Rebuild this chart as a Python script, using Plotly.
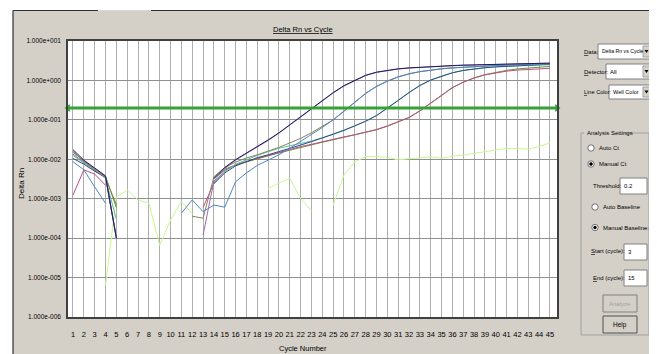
import plotly.graph_objects as go

# ---------------- data ----------------
cycles = list(range(1, 46))
N = None
purple = [0.016, 0.0088, 0.0058, 0.0036, 1.1e-4, N, N, N, N, N, N, N, 1.2e-4, 0.0028, 0.0058,
          0.0095, 0.014, 0.020, 0.030, 0.046, 0.074, 0.118, 0.185, 0.30, 0.48, 0.72, 1.0, 1.33, 1.6, 1.8,
          1.95, 2.06, 2.15, 2.23, 2.30, 2.36, 2.42, 2.47, 2.52, 2.56, 2.60, 2.64, 2.67, 2.70, 2.72]
navy = [0.0175, 0.0095, 0.006, 0.0038, 1.0e-4, N, N, N, N, N, N, N, N, 0.0032, 0.0062,
        0.0098, 0.0143, 0.0205, 0.031, 0.047, 0.075, 0.12, 0.19, 0.305, 0.49, 0.74, 1.02, 1.35, 1.62, 1.82,
        1.97, 2.08, 2.17, 2.25, 2.32, 2.38, 2.44, 2.49, 2.54, 2.58, 2.62, 2.66, 2.69, 2.72, 2.75]
steelblue = [0.0087, 0.0054, 0.002, 7.7e-4, N, N, N, N, N, N, 4.3e-4, 9.3e-4, 4.7e-4, 6.9e-4, 6.1e-4,
             0.0027, 0.0045, 0.007, 0.0095, 0.013, 0.019, 0.028, 0.042, 0.064, 0.10, 0.165, 0.28, 0.47, 0.70, 0.95,
             1.22, 1.46, 1.66, 1.83, 1.96, 2.07, 2.16, 2.24, 2.31, 2.37, 2.43, 2.48, 2.53, 2.57, 2.62]
olive = [0.0135, 0.0085, 0.0055, 0.0034, 7e-4, N, N, N, N, N, N, 3.6e-4, 3.2e-4, 0.0036, 0.0062,
         0.0085, 0.0108, 0.013, 0.016, 0.020, 0.026, 0.034, 0.047, 0.068, 0.10, 0.165, 0.28, 0.47, 0.71, 0.97,
         1.24, 1.48, 1.68, 1.85, 1.98, 2.09, 2.18, 2.26, 2.33, 2.39, 2.45, 2.50, 2.55, 2.59, 2.63]
teal = [0.0125, 0.008, 0.0052, 0.0033, 3e-4, N, N, N, N, N, N, N, N, 0.0026, 0.0048,
        0.0075, 0.0098, 0.0125, 0.0155, 0.019, 0.022, 0.025, 0.029, 0.035, 0.044, 0.055, 0.07, 0.093, 0.13, 0.20,
        0.32, 0.50, 0.75, 1.03, 1.30, 1.57, 1.80, 1.98, 2.10, 2.20, 2.28, 2.35, 2.41, 2.46, 2.50]
darkblue = [0.0105, 0.0075, 0.005, 0.0035, 1.0e-4, N, N, N, N, N, N, N, N, 0.0024, 0.0045,
            0.0068, 0.0088, 0.011, 0.013, 0.0155, 0.019, 0.023, 0.028, 0.034, 0.043, 0.054, 0.069, 0.092, 0.128, 0.195,
            0.31, 0.49, 0.74, 1.02, 1.29, 1.56, 1.79, 1.97, 2.10, 2.21, 2.30, 2.38, 2.45, 2.50, 2.55]
pink = [0.00123, 0.0054, 0.0042, 0.0022, N, N, N, N, N, N, N, N, 6e-4, 0.0025, 0.0052,
        0.0072, 0.0088, 0.0105, 0.0125, 0.015, 0.018, 0.021, 0.024, 0.028, 0.033, 0.037, 0.042, 0.048, 0.057, 0.07,
        0.088, 0.115, 0.17, 0.27, 0.43, 0.66, 0.90, 1.15, 1.38, 1.57, 1.72, 1.83, 1.92, 1.98, 2.03]
green = [0.015, 0.009, 0.0057, 0.0037, 6e-4, N, N, N, N, N, N, N, N, 0.0034, 0.0056,
         0.0072, 0.0087, 0.0104, 0.0122, 0.0145, 0.0172, 0.020, 0.0232, 0.027, 0.031, 0.036, 0.041, 0.047, 0.056, 0.069,
         0.087, 0.114, 0.168, 0.265, 0.42, 0.65, 0.90, 1.16, 1.40, 1.62, 1.80, 1.96, 2.08, 2.18, 2.27]
ntc = [N, N, N, 6.4e-6, 1.1e-3, 1.65e-3, 9.3e-4, 7.7e-4, 6.6e-5, 2.9e-4, 8.4e-4, 4.2e-4, N, N, N,
       N, N, N, 1.8e-3, 2.5e-3, 3.3e-3, 1.0e-3, 5.0e-4, N, 6.9e-4, 4.0e-3, 8.6e-3, 0.0116, 0.0118, 0.0112,
       0.0097, 0.0104, 0.0112, 0.0116, 0.0106, 0.012, 0.0128, 0.014, 0.0155, 0.0172, 0.0188, 0.0188, 0.018, 0.021, 0.026]

series = [
    ("NTC", ntc, "#c8f890"),
    ("Well 8", green, "#62982c"),
    ("Well 7", pink, "#c04c86"),
    ("Well 5", teal, "#5cbf98"),
    ("Well 6", darkblue, "#2d4a8a"),
    ("Well 4", olive, "#84845a"),
    ("Well 3", steelblue, "#4f86c6"),
    ("Well 1", purple, "#9a68b0"),
    ("Well 2", navy, "#1c1c5c"),
]

threshold = 0.2
x_range = [0.54, 45.65]
ytick_vals = [1e1, 1e0, 1e-1, 1e-2, 1e-3, 1e-4, 1e-5, 1e-6]
ytick_text = ["1.000e+001", "1.000e+000", "1.000e-001", "1.000e-002",
              "1.000e-003", "1.000e-004", "1.000e-005", "1.000e-006"]

FONT = "Liberation Sans, Arial, sans-serif"
BG = "#d4d0c8"

fig = go.Figure()
for name, vals, col in series:
    fig.add_trace(go.Scatter(x=cycles, y=vals, mode="lines", name=name,
                             line=dict(color=col, width=1), connectgaps=False))

# threshold line with end arrows
fig.add_trace(go.Scatter(x=x_range, y=[threshold, threshold], mode="lines+markers",
                         line=dict(color="#37a137", width=3),
                         marker=dict(symbol=["triangle-left", "triangle-right"], size=7,
                                     color="#37a137"),
                         cliponaxis=False, name="Threshold"))

# ---------------- layout ----------------
# the page body has an 8px margin, so the figure is 8px smaller than the window
OFF = 8
FIG_W, FIG_H = 657 - OFF, 354 - OFF
L, R, T, B = 68 - OFF, 100, 41 - OFF, 37
W, H = FIG_W - L - R, FIG_H - T - B


def px(x):
    return (x - OFF - L) / W


def py(y):
    return (FIG_H - B - (y - OFF)) / H


shapes = []
annots = []


def rect(x0, y0, x1, y1, fill, line=None, lw=1, layer="below"):
    shapes.append(dict(type="rect", xref="paper", yref="paper", x0=px(x0), x1=px(x1),
                       y0=py(y1), y1=py(y0), fillcolor=fill,
                       line=dict(color=line if line else fill, width=lw if line else 0),
                       layer=layer))


def hline(x0, x1, y, col, lw=1):
    shapes.append(dict(type="line", xref="paper", yref="paper", x0=px(x0), x1=px(x1),
                       y0=py(y), y1=py(y), line=dict(color=col, width=lw)))


def vline(x, y0, y1, col, lw=1):
    shapes.append(dict(type="line", xref="paper", yref="paper", x0=px(x), x1=px(x),
                       y0=py(y0), y1=py(y1), line=dict(color=col, width=lw)))


def text(x, y, s, size=6, color="#000000", xanchor="left", angle=0, yanchor="middle", **fkw):
    annots.append(dict(x=px(x), y=py(y), xref="paper", yref="paper", text=s, showarrow=False,
                       xanchor=xanchor, yanchor=yanchor, textangle=angle,
                       font=dict(family=FONT, size=size, color=color, **fkw)))


def circle(cx, cy, r, fill, line):
    shapes.append(dict(type="circle", xref="paper", yref="paper", x0=px(cx - r), x1=px(cx + r),
                       y0=py(cy + r), y1=py(cy - r), fillcolor=fill, line=dict(color=line, width=1)))


# window frame (page coordinates of the 657x354 window)
rect(0, 0, 657, 10.5, "#ffffff")
rect(0, 0, 13, 354, "#ffffff")
rect(655, 0, 657, 354, "#eeeeee")
hline(13, 98, 10.5, "#303030", 1.2)
hline(98, 151, 10.5, "#d8d8d8", 1.2)
hline(151, 655, 10.5, "#303030", 1.2)
vline(13, 10.5, 354, "#303030", 1.2)

# chart titles
text(303, 29, "Delta Rn vs Cycle", size=7.5, xanchor="center", lineposition="under")
text(21, 184, "Delta Rn", size=8, xanchor="center", angle=-90)
text(303, 348.5, "Cycle Number", size=7.5, xanchor="center")


# dropdowns
def dropdown(x0, x1, y0, y1, label, size=6):
    rect(x0, y0, x1, y1, "#ffffff", "#808080", 1)
    rect(x1 - 9, y0 + 2, x1 - 2, y1 - 2, BG, "#a0a0a0", 1)
    shapes.append(dict(type="path", xref="paper", yref="paper",
                       path="M {} {} L {} {} L {} {} Z".format(px(x1 - 7.5), py((y0 + y1) / 2 - 1.5),
                                                              px(x1 - 3.5), py((y0 + y1) / 2 - 1.5),
                                                              px(x1 - 5.5), py((y0 + y1) / 2 + 1.5)),
                       fillcolor="#000000", line=dict(color="#000000", width=0)))
    text(x0 + 1.5, (y0 + y1) / 2, label, size=size)


text(582, 52, "<u>D</u>ata:", size=6)
dropdown(598, 652, 44, 59, "Delta Rn vs Cycle", size=5.2)
text(582, 71.5, "<u>D</u>etector:", size=6)
dropdown(606, 652, 64, 79, "All")
text(581.5, 92, "<u>L</u>ine Color:", size=5.6)
dropdown(609, 652, 85, 99, "Well Color", size=5.6)

# analysis settings frame
rect(581, 133, 649, 335, BG, "#a0a0a0", 1)
rect(584, 128, 624, 137, BG)
text(584.5, 132.5, "Analysis Settings", size=6)

circle(591, 148, 3.2, "#ffffff", "#707070")
text(597, 148, "Auto Ct", size=6)
circle(591, 164, 3.2, "#ffffff", "#707070")
circle(591, 164, 1.3, "#000000", "#000000")
text(597, 164, "Manual Ct", size=6)

text(591, 186, "Threshold:", size=6)
rect(620, 178, 647, 194, "#ffffff", "#808080", 1)
text(621.5, 186, "0.2", size=6)

circle(595, 207, 3.2, "#ffffff", "#707070")
text(600.5, 207, "Auto Baseline", size=6)
circle(595, 227.5, 3.2, "#ffffff", "#707070")
circle(595, 227.5, 1.3, "#000000", "#000000")
text(600.5, 227.5, "Manual Baseline:", size=6)

text(588.5, 251.5, "<u>S</u>tart (cycle):", size=6)
rect(624, 244, 647, 260, "#ffffff", "#808080", 1)
text(625.5, 252, "3", size=6)

text(590.5, 277.5, "<u>E</u>nd (cycle):", size=6)
rect(624, 270, 647, 286, "#ffffff", "#808080", 1)
text(625.5, 278, "15", size=6)

rect(603, 295, 637, 312, BG, "#808080", 1)
text(620, 303.5, "Analyze", size=6, color="#a0a0a0", xanchor="center")
rect(603, 316, 637, 333, BG, "#505050", 1)
text(620, 324.5, "Help", size=6.5, xanchor="center")

fig.update_layout(
    width=FIG_W, height=FIG_H,
    margin=dict(l=L, r=R, t=T, b=B, pad=0, autoexpand=False),
    paper_bgcolor=BG, plot_bgcolor="#ffffff",
    showlegend=False,
    shapes=shapes, annotations=annots,
    font=dict(family=FONT, size=7, color="#000000"),
    xaxis=dict(range=x_range, tickmode="array", tickvals=cycles, ticktext=[str(c) for c in cycles],
               showgrid=True, gridcolor="#b0b0b0", gridwidth=1, zeroline=False,
               showline=True, linecolor="#404040", linewidth=1.5, mirror=True, automargin=False,
               ticks="", ticklabelstandoff=9, tickfont=dict(size=7.5), tickangle=0),
    yaxis=dict(type="log", range=[-6, 1], tickmode="array", tickvals=ytick_vals, ticktext=ytick_text,
               showgrid=True, gridcolor="#909090", gridwidth=1.3, zeroline=False,
               showline=True, linecolor="#404040", linewidth=1.5, mirror=True, automargin=False,
               ticks="", ticklabelstandoff=4, tickfont=dict(size=6.5)),
)

fig.write_html("out.html")
